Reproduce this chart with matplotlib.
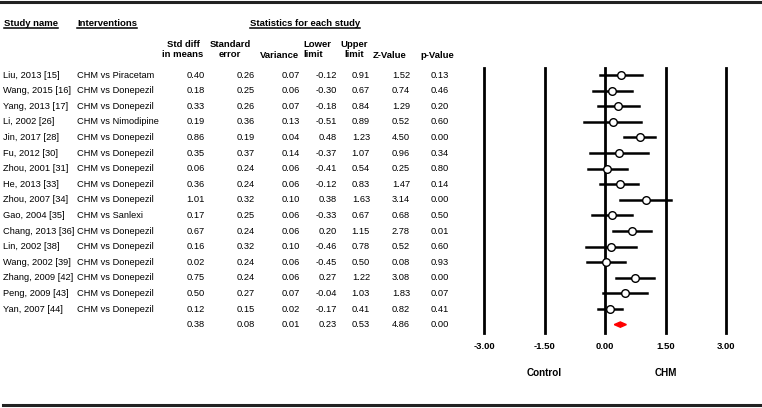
import matplotlib.pyplot as plt
from matplotlib.patches import Polygon

plt.rcParams['font.family'] = ['Liberation Sans', 'DejaVu Sans']

# Data #
studies = ['Liu, 2013 [15]', 'Wang, 2015 [16]', 'Yang, 2013 [17]', 'Li, 2002 [26]',
           'Jin, 2017 [28]', 'Fu, 2012 [30]', 'Zhou, 2001 [31]', 'He, 2013 [33]',
           'Zhou, 2007 [34]', 'Gao, 2004 [35]', 'Chang, 2013 [36]', 'Lin, 2002 [38]',
           'Wang, 2002 [39]', 'Zhang, 2009 [42]', 'Peng, 2009 [43]', 'Yan, 2007 [44]']
interventions = ['CHM vs Piracetam', 'CHM vs Donepezil', 'CHM vs Donepezil', 'CHM vs Nimodipine',
                 'CHM vs Donepezil', 'CHM vs Donepezil', 'CHM vs Donepezil', 'CHM vs Donepezil',
                 'CHM vs Donepezil', 'CHM vs Sanlexi', 'CHM vs Donepezil', 'CHM vs Donepezil',
                 'CHM vs Donepezil', 'CHM vs Donepezil', 'CHM vs Donepezil', 'CHM vs Donepezil']
smd = [0.40, 0.18, 0.33, 0.19, 0.86, 0.35, 0.06, 0.36, 1.01, 0.17, 0.67, 0.16, 0.02, 0.75, 0.50, 0.12]
se = [0.26, 0.25, 0.26, 0.36, 0.19, 0.37, 0.24, 0.24, 0.32, 0.25, 0.24, 0.32, 0.24, 0.24, 0.27, 0.15]
variance = [0.07, 0.06, 0.07, 0.13, 0.04, 0.14, 0.06, 0.06, 0.10, 0.06, 0.06, 0.10, 0.06, 0.06, 0.07, 0.02]
lower = [-0.12, -0.30, -0.18, -0.51, 0.48, -0.37, -0.41, -0.12, 0.38, -0.33, 0.20, -0.46, -0.45, 0.27, -0.04, -0.17]
upper = [0.91, 0.67, 0.84, 0.89, 1.23, 1.07, 0.54, 0.83, 1.63, 0.67, 1.15, 0.78, 0.50, 1.22, 1.03, 0.41]
zval = [1.52, 0.74, 1.29, 0.52, 4.50, 0.96, 0.25, 1.47, 3.14, 0.68, 2.78, 0.52, 0.08, 3.08, 1.83, 0.82]
pval = [0.13, 0.46, 0.20, 0.60, 0.00, 0.34, 0.80, 0.14, 0.00, 0.50, 0.01, 0.60, 0.93, 0.00, 0.07, 0.41]
overall = [0.38, 0.08, 0.01, 0.23, 0.53, 4.86, 0.00]  # smd, se, var, lower, upper, z, p
xticks = [-3.00, -1.50, 0.00, 1.50, 3.00]

W, H = 762, 408
fig = plt.figure(figsize=(W / 100, H / 100), dpi=100)

# table axes in pixel coordinates
ax_t = fig.add_axes([0, 0, 1, 1])
ax_t.set_xlim(0, W)
ax_t.set_ylim(H, 0)
ax_t.axis('off')

row0, dy = 75, 15.6
fs, fsb = 6.7, 6.8

ax_t.plot([0, W], [2, 2], color='#222222', lw=2.2)
ax_t.plot([3, W], [405, 405], color='#222222', lw=2.2)

heads = []
heads.append(ax_t.text(4, 23, 'Study name', fontsize=fsb, fontweight='bold', va='center'))
heads.append(ax_t.text(77, 23, 'Interventions', fontsize=fsb, fontweight='bold', va='center'))
heads.append(ax_t.text(305, 23, 'Statistics for each study', fontsize=fsb, fontweight='bold',
                       va='center', ha='center'))

col_heads = [('Std diff\nin means', 183, 'center'), ('Standard\nerror', 230, 'center'),
             ('Variance', 279, 'center'), ('Lower\nlimit', 303, 'left'),
             ('Upper\nlimit', 354, 'center'), ('Z-Value', 390, 'center'), ('p-Value', 437, 'center')]
for txt, x, ha in col_heads:
    if '\n' in txt:
        ax_t.text(x, 49.5, txt, fontsize=fsb, fontweight='bold', ha=ha, va='center',
                  multialignment=ha, linespacing=1.2)
    else:
        ax_t.text(x, 56, txt, fontsize=fsb, fontweight='bold', ha=ha, va='center')

# underline headers
fig.canvas.draw()
r = fig.canvas.get_renderer()
inv = ax_t.transData.inverted()
for t in heads:
    bb = t.get_window_extent(r)
    (x0, _), (x1, _) = inv.transform([[bb.x0, bb.y0], [bb.x1, bb.y1]])
    ax_t.plot([x0, x1], [28, 28], color='black', lw=1.1)

col_right = [205, 255, 300, 337, 370, 410, 449]
for i in range(len(studies)):
    y = row0 + i * dy
    ax_t.text(3, y, studies[i], fontsize=fs, va='center')
    ax_t.text(77, y, interventions[i], fontsize=fs, va='center')
    vals = [smd[i], se[i], variance[i], lower[i], upper[i], zval[i], pval[i]]
    for v, x in zip(vals, col_right):
        ax_t.text(x, y, f'{v:.2f}', fontsize=fs, va='center', ha='right')
y = row0 + len(studies) * dy
for v, x in zip(overall, col_right):
    ax_t.text(x, y, f'{v:.2f}', fontsize=fs, va='center', ha='right')

# Forest plot #
px0, px1 = 484, 726
py0, py1 = 68, 333
ax = fig.add_axes([px0 / W, 1 - py1 / H, (px1 - px0) / W, (py1 - py0) / H])
ax.set_xlim(-3, 3)
ax.set_ylim((py1 - row0) / dy, (py0 - row0) / dy)
for s in ax.spines.values():
    s.set_visible(False)
ax.set_yticks([])
for xv in xticks:
    ax.axvline(xv, color='black', lw=2.0, zorder=1, clip_on=False)

for i in range(len(studies)):
    ax.plot([lower[i], upper[i]], [i, i], color='black', lw=1.8, zorder=2)
    ax.plot(smd[i], i, 'o', ms=5.5, mfc='white', mec='black', mew=1.0, zorder=3)

k = len(studies)
dia = Polygon([[overall[3], k], [overall[0], k - 0.17], [overall[4], k], [overall[0], k + 0.17]],
              closed=True, color='red', zorder=3)
ax.add_patch(dia)

ax.set_xticks(xticks)
ax.set_xticklabels([f'{v:.2f}' for v in xticks], fontsize=fsb, fontweight='bold')
ax.tick_params(axis='x', length=0, pad=6.5)

ax.text(-1.5, (373 - row0) / dy, 'Control', fontsize=fsb + 0.3, fontweight='bold', ha='center', va='center')
ax.text(1.5, (373 - row0) / dy, 'CHM', fontsize=fsb + 0.3, fontweight='bold', ha='center', va='center')

plt.savefig('out.png', dpi=100)
